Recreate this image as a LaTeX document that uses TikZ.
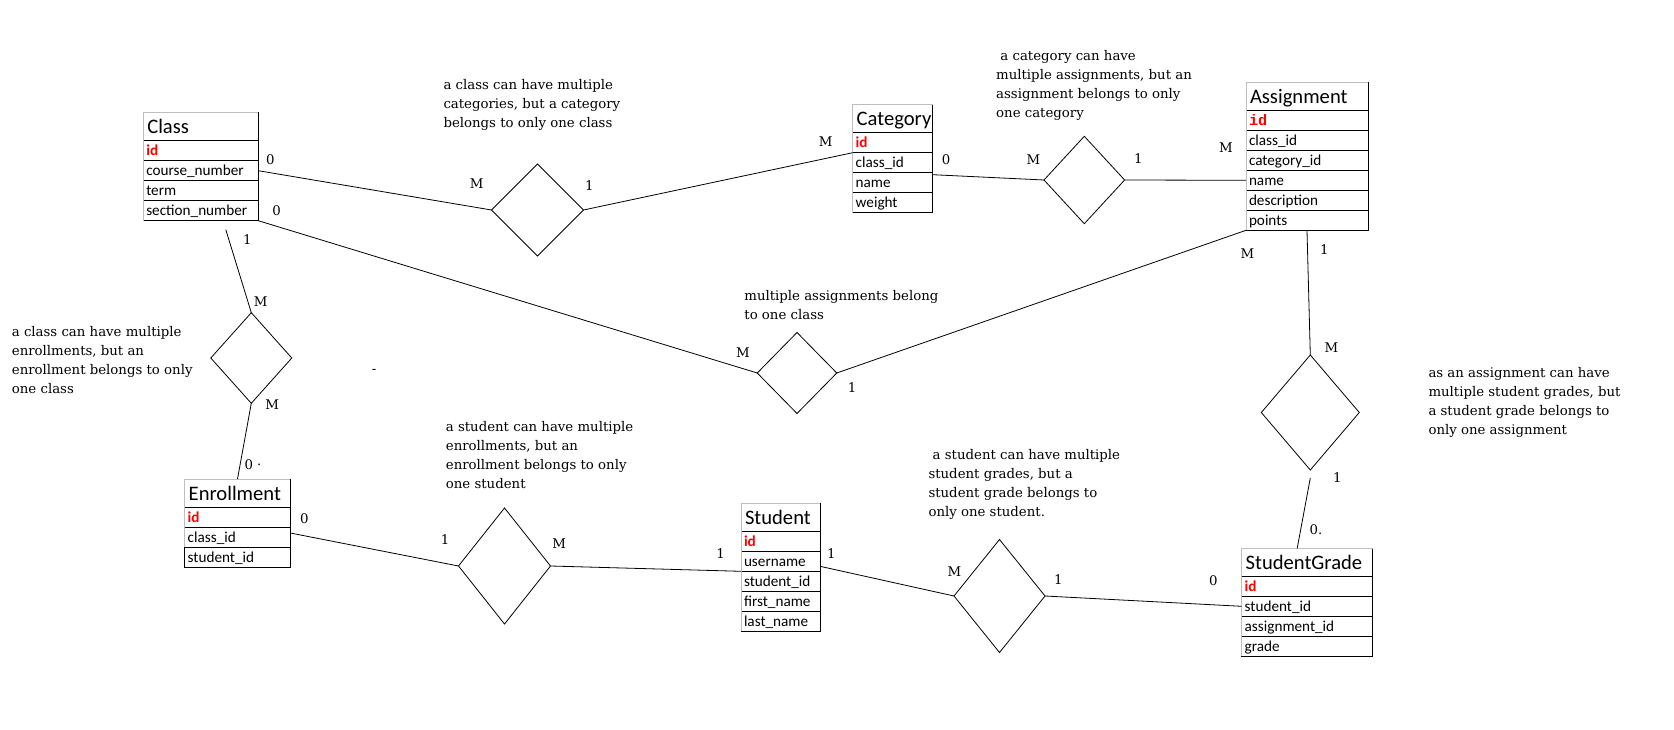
\documentclass[tikz,border=0pt]{standalone}
\usepackage{fontspec}
\setmainfont{DejaVu Serif}
\newfontfamily\tabfont{Carlito}
\newfontfamily\monofnt{Liberation Mono}
\usetikzlibrary{shapes.geometric,calc}
\definecolor{idred}{RGB}{255,0,0}
\definecolor{edgegray}{RGB}{190,190,190}
\tikzset{
 ttl/.style={draw=black, line width=0.8pt, inner xsep=4pt, inner ysep=0pt, outer sep=0pt, align=left,
   minimum height=28pt, text height=18pt, text depth=4pt, font=\tabfont\fontsize{20.6}{24}\selectfont},
 fld/.style={draw=black, line width=0.8pt, inner xsep=3pt, inner ysep=0pt, outer sep=0pt, align=left,
   minimum height=20pt, text height=13pt, text depth=3pt, font=\tabfont\fontsize{15.2}{18}\selectfont},
 rel/.style={draw=black, line width=0.8pt, shape=diamond, inner sep=0pt, outer sep=0pt},
 conn/.style={draw=black, line width=0.8pt},
 lbl/.style={font=\fontsize{13.3}{16}\selectfont, inner sep=0pt},
 note/.style={font=\fontsize{13.3}{19}\selectfont, align=left, inner sep=0pt, anchor=north west},
}
\newcommand\idf{\color{idred}\bfseries}
% #1 name, #2 x, #3 y, #4 width, #5 title
\newcommand\ertable[5]{%
  \pgfmathsetmacro\ertw{#4-8}%
  \node[ttl, text width=\ertw pt, anchor=north west] (#1-0) at (#2,#3) {#5};
}
% #1 name, #2 width, #3 number of rows, #4 rows
\newcommand\errows[4]{%
  \pgfmathsetmacro\errw{#2-6}%
  \foreach \r [count=\i, remember=\i as \p (initially 0)] in {#4} {
    \node[fld, text width=\errw pt, anchor=north west] (#1-\i) at (#1-\p.south west) {\r};
  }
  \draw[edgegray, line width=0.8pt] (#1-0.north east) -- (#1-0.north west) -- (#1-#3.south west);
}
\begin{document}
\begin{tikzpicture}[x=1pt,y=-1pt]
\fill[white] (0,0) rectangle (1674,730);
\useasboundingbox (0,0) rectangle (1674,730);

% ---------- tables ----------
\ertable{cls}{143.3}{112.7}{115}{Class}
\errows{cls}{115}{4}{{\idf id},course\_number,term,section\_number}

\ertable{cat}{852.7}{104.7}{80}{Category}
\errows{cat}{80}{4}{{\idf id},class\_id,name,weight}

\ertable{asg}{1246}{82.3}{122}{Assignment}
\errows{asg}{122}{6}{{\monofnt\idf id},class\_id,category\_id,name,description,points}

\ertable{enr}{184.7}{479}{105.6}{Enrollment}
\errows{enr}{105.6}{2}{{\idf id},class\_id,student\_id}

\ertable{stu}{741}{503.3}{79}{Student}
\errows{stu}{79}{5}{{\idf id},username,student\_id,first\_name,last\_name}

\ertable{sg}{1241.7}{548.3}{131}{StudentGrade}
\errows{sg}{131}{4}{{\idf id},student\_id,assignment\_id,grade}

% ---------- relationships ----------
\node[rel, minimum width=92pt, minimum height=92pt]  (d1) at (537.5,210) {};
\node[rel, minimum width=80.6pt, minimum height=87.4pt] (d2) at (1084.3,180) {};
\node[rel, minimum width=81pt, minimum height=90.6pt] (d3) at (251.3,358) {};
\node[rel, minimum width=79.5pt, minimum height=81pt] (d4) at (797,373) {};
\node[rel, minimum width=98pt, minimum height=115pt] (d5) at (1310.3,412.5) {};
\node[rel, minimum width=92pt, minimum height=116pt] (d6) at (504.5,566) {};
\node[rel, minimum width=91pt, minimum height=113pt] (d7) at (999.5,596) {};

% ---------- connectors ----------
\draw[conn] (cls-2.east) -- (d1.west);
\draw[conn] (d1.east) -- (cat-1.south west);
\draw[conn] ($(cat-2.south east)+(0,2)$) -- (d2.west);
\draw[conn] (d2.east) -- (asg-4.west);
\draw[conn] (cls-4.south east) -- (d4.west);
\draw[conn] (d4.east) -- (asg-6.south west);
\draw[conn] ($(cls-4.south)+(25,9)$) -- (d3.north);
\draw[conn] (d3.south) -- (enr-0.north);
\draw[conn] ($(enr-2.east)+(0,-4)$) -- (d6.west);
\draw[conn] (d6.east) -- (stu-2.south west);
\draw[conn] ($(stu-2.east)+(0,5)$) -- (d7.west);
\draw[conn] (d7.east) -- (sg-2.west);
\draw[conn] (asg-6.south) -- (d5.north);
\draw[conn] ($(d5.south)+(0,8)$) -- ($(sg-0.north)+(-10,0)$);

% ---------- cardinality labels ----------
\foreach \x/\y/\t [count=\i] in {
  270.3/159.3/0, 476.7/184/M, 589.3/185.7/1, 825.7/141.7/M,
  946/159.3/0, 1033.3/159.3/M, 1138.3/158.3/1, 1226/147.3/M,
  276.7/211/0, 247.3/239.3/1, 260.7/301.7/M, 272.3/405/M,
  253/464.3/{0 ·}, 742.9/352.7/M, 852.2/387.3/1, 1247.3/254/M,
  1324.3/249.3/1, 1331.3/347.7/M, 1337.3/477.3/1, 1316/530/{0.},
  304.3/519/0, 445/540/1, 559.3/543.3/M, 720.7/553.3/1,
  831.3/554/1, 954.3/571.7/M, 1058.3/579.3/1, 1213.3/580.7/0,
  374/371/-}
  \node[lbl] (lab\i) at (\x,\y) {\t};

% ---------- notes ----------
\node[note] (n1) at (443.3,75.7) {\strut a class can have multiple\\categories, but a category\\belongs to only one class};
\node[note] (n2) at (996,47.2) {\strut\ a category can have\\multiple assignments, but an\\assignment belongs to only\\one category};
\node[note] (n3) at (11.7,322.7) {\strut a class can have multiple\\enrollments, but an\\enrollment belongs to only\\one class};
\node[note] (n4) at (744.2,287.4) {\strut multiple assignments belong\\to one class};
\node[note] (n5) at (1428.3,364.4) {\strut as an assignment can have\\multiple student grades, but\\a student grade belongs to\\only one assignment};
\node[note] (n6) at (445.7,418.4) {\strut a student can have multiple\\enrollments, but an\\enrollment belongs to only\\one student};
\node[note] (n7) at (928.3,446) {\strut\ a student can have multiple\\student grades, but a\\student grade belongs to\\only one student.};
\end{tikzpicture}
\end{document}
